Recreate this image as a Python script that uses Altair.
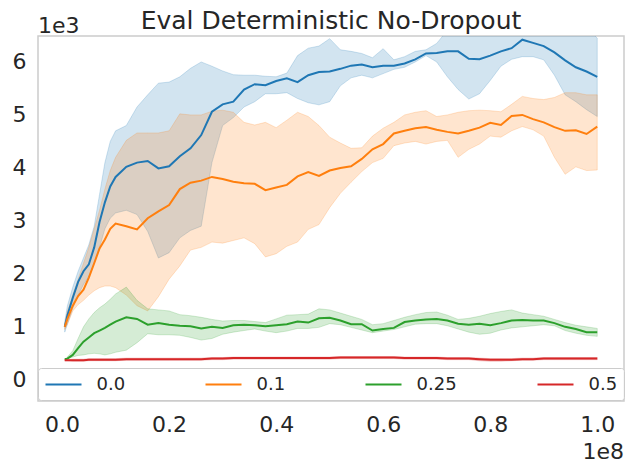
import altair as alt
import pandas as pd

# x in units of 1e8 steps, y in units of 1e3
X = [0.005, 0.01, 0.02, 0.03, 0.04, 0.05, 0.06, 0.07, 0.08, 0.09, 0.10,
     0.12, 0.14, 0.16, 0.18, 0.20, 0.22, 0.24, 0.26, 0.28, 0.30,
     0.32, 0.34, 0.36, 0.38, 0.40, 0.42, 0.44, 0.46, 0.48, 0.50,
     0.52, 0.54, 0.56, 0.58, 0.60, 0.62, 0.64, 0.66, 0.68, 0.70,
     0.72, 0.74, 0.76, 0.78, 0.80, 0.82, 0.84, 0.86, 0.88, 0.90,
     0.92, 0.94, 0.96, 0.98, 1.00]

SERIES = ["0.0", "0.1", "0.25", "0.5"]
COLORS = ["#1f77b4", "#ff7f0e", "#2ca02c", "#d62728"]

BLUE_MEAN = [1.0, 1.22, 1.55, 1.85, 2.05, 2.18, 2.5, 2.98, 3.35, 3.65, 3.83,
             4.02, 4.1, 4.13, 3.99, 4.03, 4.22, 4.37, 4.62, 5.06, 5.2,
             5.25, 5.48, 5.58, 5.56, 5.64, 5.69, 5.62, 5.75, 5.81, 5.82,
             5.87, 5.93, 5.95, 5.9, 5.93, 5.93, 5.97, 6.05, 6.16, 6.17,
             6.2, 6.2, 6.06, 6.05, 6.12, 6.2, 6.26, 6.42, 6.36, 6.3,
             6.18, 6.03, 5.9, 5.82, 5.72]
BLUE_HI = [1.1, 1.4, 1.75, 2.05, 2.3, 2.55, 2.9, 3.5, 4.1, 4.5, 4.7,
           4.8, 5.15, 5.38, 5.6, 5.62, 5.72, 5.88, 6.0, 5.92, 5.83,
           5.76, 5.75, 5.75, 5.73, 5.72, 5.79, 6.12, 6.26, 6.3, 6.44,
           6.23, 6.2, 6.16, 6.08, 6.25, 6.04, 6.1, 6.2, 6.23, 6.35,
           6.6, 6.7, 6.7, 6.7, 6.7, 6.7, 6.7, 6.7, 6.7, 6.7,
           6.7, 6.7, 6.7, 6.65, 6.45]
BLUE_LO = [0.9, 1.05, 1.35, 1.6, 1.8, 1.95, 2.2, 2.5, 2.85, 3.05, 3.15,
           3.2, 3.12, 2.8, 2.3, 2.4, 2.68, 2.82, 2.9, 4.1, 4.8,
           4.95, 5.15, 5.25, 5.4, 5.4, 5.42, 5.31, 5.23, 5.19, 5.25,
           5.55, 5.7, 5.75, 5.7, 5.78, 5.86, 5.9, 6.0, 6.12, 6.0,
           5.72, 5.48, 5.3, 5.4, 5.65, 5.92, 6.05, 6.1, 6.1, 6.04,
           5.75, 5.38, 5.25, 5.1, 4.97]

ORANGE_MEAN = [1.0, 1.15, 1.4, 1.58, 1.7, 1.93, 2.2, 2.48, 2.65, 2.85, 2.95,
               2.9, 2.84, 3.05, 3.18, 3.3, 3.6, 3.72, 3.76, 3.83, 3.79,
               3.74, 3.71, 3.7, 3.58, 3.63, 3.68, 3.84, 3.92, 3.85, 3.95,
               4.0, 4.03, 4.17, 4.35, 4.45, 4.65, 4.7, 4.75, 4.77, 4.72,
               4.68, 4.65, 4.7, 4.76, 4.85, 4.81, 4.98, 5.0, 4.92, 4.86,
               4.77, 4.7, 4.71, 4.64, 4.78]
ORANGE_HI = [1.05, 1.3, 1.6, 1.9, 2.2, 2.5, 2.85, 3.2, 3.6, 3.95, 4.2,
             4.52, 4.66, 4.66, 4.66, 4.7, 5.02, 5.0, 5.0, 5.07, 5.09,
             5.05, 4.86, 4.81, 4.86, 4.76, 4.9, 5.05, 4.97, 4.8, 4.58,
             4.47, 4.37, 4.38, 4.6, 4.75, 4.86, 5.0, 5.05, 5.08, 4.97,
             5.0, 5.05, 5.08, 5.09, 5.08, 5.06, 5.2, 5.35, 5.31, 5.29,
             5.33, 5.42, 5.42, 5.38, 5.38]
ORANGE_LO = [0.95, 1.05, 1.3, 1.42, 1.5, 1.6, 1.68, 1.74, 1.77, 1.77, 1.74,
             1.6, 1.4, 1.3, 1.57, 1.9, 2.15, 2.45, 2.5, 2.6, 2.58,
             2.63, 2.68, 2.57, 2.32, 2.38, 2.52, 2.6, 2.84, 2.93, 3.25,
             3.52, 3.73, 3.93, 4.1, 4.18, 4.42, 4.47, 4.5, 4.45, 4.5,
             4.52, 4.2, 4.35, 4.45, 4.6, 4.58, 4.7, 4.78, 4.72, 4.6,
             4.2, 3.88, 4.02, 3.95, 3.96]

GREEN_MEAN = [0.39, 0.4, 0.47, 0.6, 0.72, 0.8, 0.88, 0.93, 0.98, 1.04, 1.1,
              1.18, 1.15, 1.04, 1.07, 1.04, 1.02, 1.01, 0.97, 1.0, 0.98,
              1.03, 1.04, 1.03, 1.01, 1.03, 1.05, 1.1, 1.08, 1.16, 1.17,
              1.12, 1.05, 1.05, 0.93, 0.96, 0.98, 1.09, 1.12, 1.14, 1.15,
              1.12, 1.06, 1.04, 1.06, 1.03, 1.07, 1.12, 1.13, 1.12, 1.12,
              1.07, 1.0, 0.96, 0.9, 0.9]
GREEN_HI = [0.39, 0.43, 0.55, 0.78, 1.0, 1.15, 1.27, 1.36, 1.43, 1.52, 1.62,
            1.75, 1.5, 1.34, 1.32, 1.3, 1.23, 1.21, 1.18, 1.14, 1.11,
            1.12, 1.12, 1.1, 1.08, 1.15, 1.22, 1.23, 1.24, 1.34, 1.32,
            1.26, 1.2, 1.14, 1.04, 1.06, 1.12, 1.18, 1.23, 1.27, 1.28,
            1.22, 1.14, 1.16, 1.2, 1.25, 1.29, 1.32, 1.26, 1.23, 1.2,
            1.14, 1.08, 1.03, 1.0, 0.97]
GREEN_LO = [0.39, 0.4, 0.43, 0.46, 0.47, 0.49, 0.5, 0.49, 0.47, 0.49, 0.52,
            0.56, 0.7, 0.87, 0.85, 0.85, 0.84, 0.8, 0.75, 0.78, 0.86,
            0.9, 0.93, 0.96, 0.92, 0.89, 0.92, 0.97, 0.97, 0.99, 1.06,
            1.04, 0.99, 0.94, 0.89, 0.92, 0.95, 1.0, 1.05, 1.06, 1.06,
            1.02, 0.96, 0.9, 0.86, 0.88, 0.94, 0.98, 1.0, 1.02, 1.04,
            1.02, 0.93, 0.88, 0.84, 0.82]

RED_MEAN = [0.37, 0.37, 0.37, 0.37, 0.37, 0.38, 0.38, 0.38, 0.38, 0.38, 0.38,
            0.39, 0.39, 0.39, 0.39, 0.39, 0.39, 0.39, 0.39, 0.40, 0.40,
            0.41, 0.41, 0.41, 0.41, 0.41, 0.41, 0.41, 0.41, 0.41, 0.41,
            0.42, 0.42, 0.42, 0.42, 0.42, 0.42, 0.41, 0.41, 0.41, 0.41,
            0.40, 0.40, 0.40, 0.39, 0.38, 0.38, 0.38, 0.39, 0.39, 0.40,
            0.40, 0.40, 0.40, 0.40, 0.40]
RED_HI = [0.38, 0.38, 0.39, 0.39, 0.39, 0.40, 0.40, 0.40, 0.40, 0.40, 0.40,
          0.41, 0.41, 0.41, 0.41, 0.41, 0.41, 0.41, 0.41, 0.42, 0.42,
          0.43, 0.43, 0.43, 0.43, 0.43, 0.43, 0.43, 0.43, 0.43, 0.43,
          0.44, 0.44, 0.44, 0.44, 0.44, 0.44, 0.43, 0.43, 0.43, 0.43,
          0.42, 0.42, 0.42, 0.41, 0.40, 0.40, 0.40, 0.41, 0.41, 0.42,
          0.42, 0.42, 0.42, 0.42, 0.42]
RED_LO = [0.36, 0.36, 0.35, 0.35, 0.35, 0.36, 0.36, 0.36, 0.36, 0.36, 0.36,
          0.37, 0.37, 0.37, 0.37, 0.37, 0.37, 0.37, 0.37, 0.38, 0.38,
          0.39, 0.39, 0.39, 0.39, 0.39, 0.39, 0.39, 0.39, 0.39, 0.39,
          0.40, 0.40, 0.40, 0.40, 0.40, 0.40, 0.39, 0.39, 0.39, 0.39,
          0.38, 0.38, 0.38, 0.36, 0.35, 0.35, 0.36, 0.37, 0.37, 0.38,
          0.38, 0.38, 0.38, 0.38, 0.38]

MEANS = [BLUE_MEAN, ORANGE_MEAN, GREEN_MEAN, RED_MEAN]
HIS = [BLUE_HI, ORANGE_HI, GREEN_HI, RED_HI]
LOS = [BLUE_LO, ORANGE_LO, GREEN_LO, RED_LO]

TITLE = "Eval Deterministic No-Dropout"

rows = []
for s, m, h, l in zip(SERIES, MEANS, HIS, LOS):
    for xv, mv, hv, lv in zip(X, m, h, l):
        rows.append({"series": s, "x": xv, "mean": mv, "hi": hv, "lo": lv})
df = pd.DataFrame(rows)

FONT = "DejaVu Sans"
TXT = "#262626"
W, H = 586, 365

xscale = alt.Scale(domain=[-0.045, 1.05], nice=False, zero=False)
yscale = alt.Scale(domain=[-0.4, 6.49], nice=False, zero=False)

xenc = alt.X("x:Q", scale=xscale,
             axis=alt.Axis(values=[0, 0.2, 0.4, 0.6, 0.8, 1.0], format=".1f",
                           title=None, labelPadding=13))

base = alt.Chart(df)

band = base.mark_area(clip=True, fillOpacity=0.2, strokeOpacity=0.2, strokeWidth=1).encode(
    x=xenc,
    y=alt.Y("lo:Q", scale=yscale,
            axis=alt.Axis(values=[0, 1, 2, 3, 4, 5, 6], format="d", title=None,
                          labelPadding=12)),
    y2="hi:Q",
    color=alt.Color("series:N", scale=alt.Scale(domain=SERIES, range=COLORS), legend=None),
    stroke=alt.Stroke("series:N", scale=alt.Scale(domain=SERIES, range=COLORS), legend=None),
)

line = base.mark_line(clip=True, strokeWidth=2).encode(
    x=xenc,
    y=alt.Y("mean:Q", scale=yscale),
    color=alt.Color(
        "series:N", scale=alt.Scale(domain=SERIES, range=COLORS),
        legend=alt.Legend(
            title=None, orient="none", legendX=0, legendY=332,
            direction="horizontal", columns=4,
            symbolType="M-1,0H3", symbolSize=324, symbolStrokeWidth=2,
            labelFont=FONT, labelFontSize=18, labelColor=TXT, labelOffset=32,
            columnPadding=76, padding=6.5,
            fillColor="rgba(255,255,255,0.8)", strokeColor="#cccccc",
            cornerRadius=3,
        ),
    ),
)

t_title = alt.Chart(pd.DataFrame({"t": [TITLE]})).mark_text(
    align="center", baseline="alphabetic", font=FONT, fontSize=25, color=TXT
).encode(x=alt.value(W / 2), y=alt.value(-7), text="t:N")

t_y = alt.Chart(pd.DataFrame({"t": ["1e3"]})).mark_text(
    align="left", baseline="alphabetic", font=FONT, fontSize=22, color=TXT
).encode(x=alt.value(0), y=alt.value(-3), text="t:N")

t_x = alt.Chart(pd.DataFrame({"t": ["1e8"]})).mark_text(
    align="right", baseline="alphabetic", font=FONT, fontSize=22, color=TXT
).encode(x=alt.value(W), y=alt.value(H + 58), text="t:N")

chart = alt.layer(band, line, t_title, t_y, t_x).resolve_scale(
    color="independent", stroke="independent"
).resolve_legend(
    color="independent", stroke="independent"
).properties(
    width=W, height=H,
    autosize=alt.AutoSizeParams(type="none"),
    padding={"left": 30, "top": 28, "right": 3, "bottom": 65},
).configure_view(
    stroke="#cccccc", strokeWidth=1.5
).configure_axis(
    grid=False, domain=False, ticks=False,
    labelFont=FONT, labelFontSize=22, labelColor=TXT,
)

chart.save("out.html", embed_options={"renderer": "svg", "actions": False})
